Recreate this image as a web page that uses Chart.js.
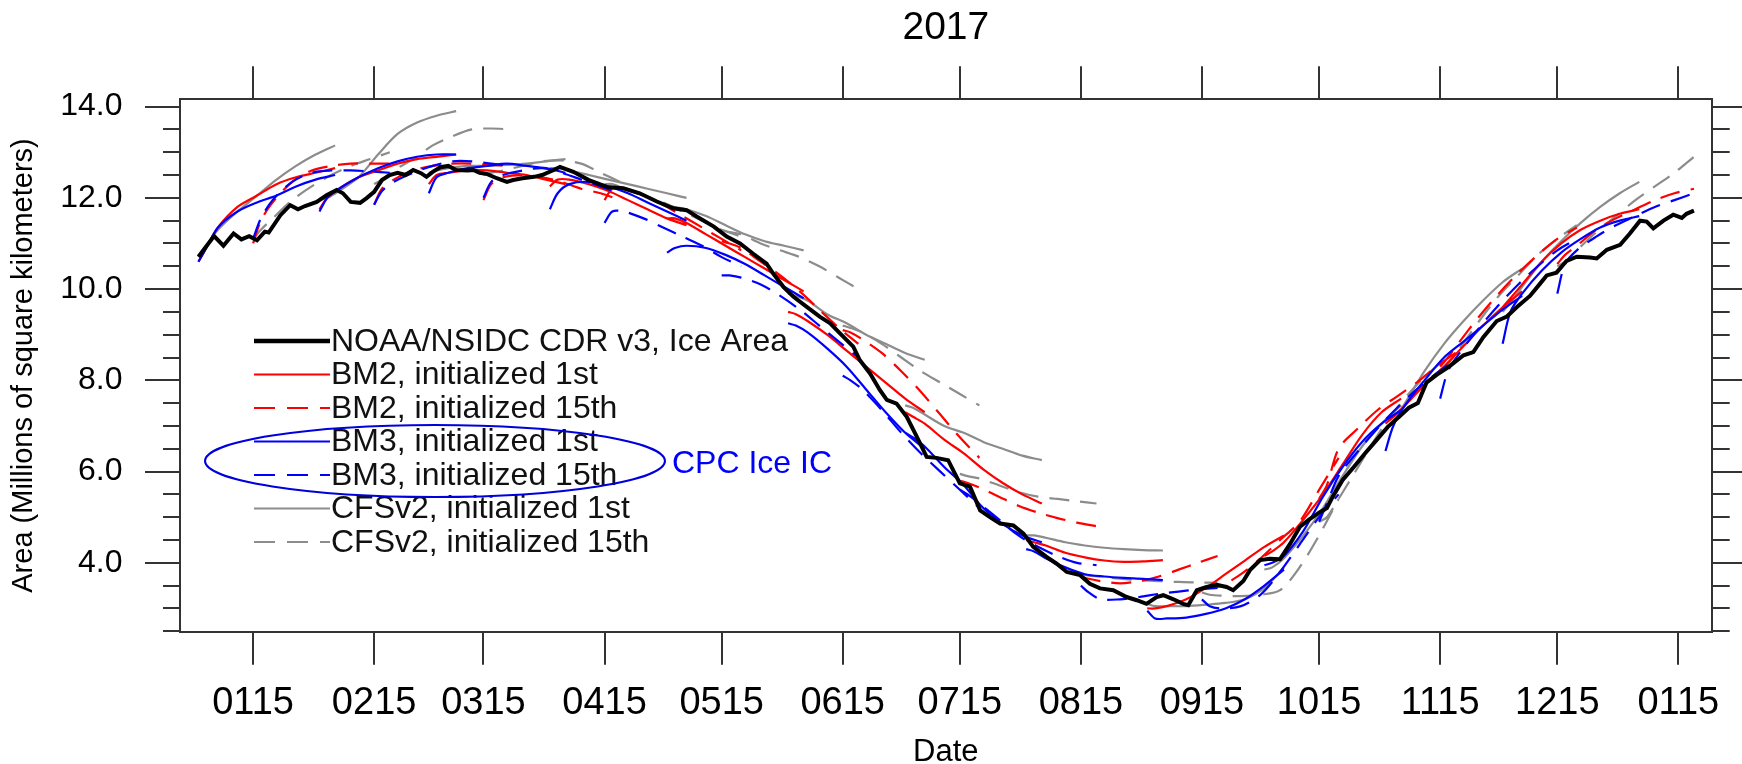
<!DOCTYPE html>
<html><head><meta charset="utf-8">
<script src="https://cdn.jsdelivr.net/npm/chart.js@4.4.1/dist/chart.umd.min.js"></script>
<style>html,body{margin:0;padding:0;background:#fff;}canvas{display:block;}</style>
</head><body>
<canvas id="c" width="1742" height="764"></canvas>
<script>
// ---- axis definitions (day index: 0 = 1 Jan 2017) ----
const tickDays = [14,45,73,104,134,165,195,226,257,287,318,348,379];
const tickLabels = ['0115','0215','0315','0415','0515','0615','0715','0815','0915','1015','1115','1215','0115'];
const yMajorTicks = [4,6,8,10,12,14];
const yMinorTicks = [2.5,3,3.5,4.5,5,5.5,6.5,7,7.5,8.5,9,9.5,10.5,11,11.5,12.5,13,13.5];

// ---- observations: NOAA/NSIDC CDR v3 ice area ----
const obsDays = [0,4,6.4,9,11,13,15,17,18,21,23.5,25.5,27.3,30.3,32.8,35.4,37,39,41.4,43,45,47,49,51,53,55,57,58.4,60,62,64,66,69,70.4,72,74,76.4,79,80.6,83,86,88,91,92.6,96,100,104.6,108.8,113,117.4,121.6,125,127.6,132,135.3,138.7,142,145.5,147.2,149.8,152.4,155.8,159.2,161.8,164.3,167.7,169.4,172,174.5,176.3,178.8,181.4,184,186.5,189,192,195,197.6,200.2,202.7,205.3,208.7,211.3,213.8,217.2,219.8,222.4,225.8,228.3,230.9,234.3,237.7,240.3,242.8,245.4,247.1,249.7,252.2,253.5,255.7,258.2,260.8,263.3,265,267.6,269.3,271.9,274.4,277,279.6,282.1,284.5,287,289,290.5,293,295.9,298.8,301.7,304.6,307.5,310,312.3,314.5,317.1,320.3,324,326.5,329.1,332.5,335.1,337.6,341,343.6,345.3,347.8,350.4,353,356.4,358.1,360.7,364.1,366.6,369.2,370.9,372.6,375.2,377.7,379.9,381.1,383];
const obsArea = [10.71,11.16,10.95,11.22,11.09,11.16,11.07,11.26,11.24,11.62,11.84,11.75,11.82,11.91,12.06,12.17,12.1,11.91,11.89,11.99,12.13,12.39,12.5,12.55,12.5,12.61,12.54,12.46,12.57,12.67,12.7,12.61,12.6,12.61,12.55,12.52,12.43,12.35,12.39,12.43,12.46,12.5,12.61,12.68,12.57,12.39,12.24,12.21,12.1,11.92,11.77,11.73,11.59,11.37,11.15,11.0,10.78,10.56,10.34,10.05,9.83,9.61,9.39,9.25,9.03,8.74,8.44,8.15,7.79,7.57,7.49,7.2,6.76,6.32,6.3,6.25,5.74,5.67,5.15,5.0,4.86,4.82,4.64,4.35,4.13,3.98,3.8,3.73,3.54,3.44,3.4,3.25,3.18,3.1,3.25,3.29,3.2,3.1,3.07,3.4,3.47,3.52,3.47,3.4,3.6,3.84,4.06,4.09,4.08,4.42,4.79,4.95,5.1,5.2,5.45,5.81,6.1,6.4,6.69,6.98,7.2,7.4,7.5,7.95,8.12,8.3,8.55,8.62,8.95,9.3,9.4,9.6,9.85,10.12,10.3,10.36,10.62,10.71,10.69,10.67,10.86,10.97,11.22,11.5,11.48,11.33,11.5,11.63,11.56,11.65,11.72];

// ---- forecasts: lead days and initialisation days ----
const leadDays = [0,2,5,10,15,20,25,30,35];
const initFirst = [0,31,59,90,120,151,181,212,243,273,304,334];
const initFifteenth = [14,45,73,104,134,165,195,226,257,287,318,348];

const bm2First = [
 [10.6,10.9,11.35,11.8,12.05,12.3,12.45,12.55,12.65],
 [11.75,12.0,12.2,12.45,12.6,12.75,12.85,12.9,12.95],
 [12.3,12.5,12.55,12.6,12.6,12.55,12.5,12.4,12.3],
 [12.25,12.4,12.4,12.3,12.15,11.95,11.75,11.55,11.4],
 [11.55,11.55,11.45,11.2,10.95,10.7,10.45,10.2,9.95],
 [9.5,9.45,9.3,9.0,8.65,8.3,7.95,7.6,7.3],
 [7.3,7.2,7.05,6.7,6.4,6.05,5.75,5.5,5.3],
 [4.5,4.45,4.38,4.22,4.12,4.05,4.02,4.03,4.06],
 [3.0,3.0,3.05,3.2,3.45,3.75,4.05,4.35,4.6],
 [4.15,4.25,4.45,4.95,5.5,6.15,6.8,7.3,7.6],
 [7.05,7.2,7.45,7.9,8.3,8.75,9.2,9.6,9.95],
 [9.6,9.8,10.1,10.6,11.0,11.3,11.5,11.65,11.75]
];
const bm2Fifteenth = [
 [11.0,11.5,11.9,12.35,12.6,12.7,12.75,12.75,12.75],
 [11.85,12.2,12.4,12.6,12.7,12.75,12.75,12.72,12.7],
 [11.95,12.3,12.45,12.5,12.45,12.35,12.2,12.1,11.95],
 [11.95,12.2,12.2,12.05,11.85,11.6,11.35,11.1,10.85],
 [11.05,11.0,10.9,10.6,10.3,9.95,9.55,9.15,8.8],
 [9.1,9.05,8.9,8.6,8.2,7.75,7.25,6.75,6.3],
 [5.8,5.75,5.65,5.45,5.25,5.1,4.98,4.88,4.8],
 [3.7,3.65,3.6,3.55,3.6,3.7,3.85,4.0,4.15],
 [3.45,3.45,3.5,3.75,4.1,4.5,4.9,5.6,6.3],
 [5.4,5.7,6.5,6.95,7.35,7.65,7.95,8.3,8.6],
 [8.3,8.5,8.85,9.4,9.9,10.35,10.75,11.1,11.35],
 [10.55,10.75,10.95,11.3,11.55,11.75,11.95,12.1,12.2]
];
const bm3First = [
 [10.6,10.9,11.35,11.7,11.9,12.05,12.25,12.4,12.5],
 [11.7,12.0,12.2,12.45,12.65,12.8,12.9,12.95,12.95],
 [12.1,12.45,12.55,12.65,12.7,12.75,12.7,12.65,12.55],
 [11.75,12.1,12.3,12.35,12.25,12.1,11.9,11.7,11.5],
 [10.8,10.9,10.95,10.9,10.75,10.55,10.3,10.05,9.8],
 [9.25,9.2,9.05,8.7,8.3,7.8,7.3,6.85,6.5],
 [6.85,6.75,6.55,6.1,5.7,5.2,4.85,4.6,4.45],
 [4.3,4.25,4.1,3.9,3.75,3.7,3.67,3.65,3.62],
 [2.95,2.78,2.78,2.8,2.88,3.0,3.2,3.5,3.85],
 [3.95,4.0,4.15,4.7,5.45,6.1,6.65,7.05,7.35],
 [6.45,7.0,7.45,8.0,8.5,8.85,9.2,9.55,9.85],
 [8.8,9.5,9.9,10.4,10.8,11.1,11.35,11.5,11.6]
];
const bm3Fifteenth = [
 [11.1,11.55,11.95,12.35,12.55,12.6,12.6,12.58,12.55],
 [11.85,12.15,12.35,12.55,12.7,12.8,12.8,12.75,12.7],
 [12.0,12.35,12.5,12.6,12.65,12.55,12.4,12.25,12.1],
 [11.45,11.7,11.7,11.55,11.35,11.15,10.95,10.7,10.5],
 [10.3,10.3,10.25,10.1,9.85,9.55,9.2,8.85,8.5],
 [8.1,8.0,7.8,7.35,6.85,6.4,6.0,5.6,5.2],
 [5.6,5.5,5.3,4.95,4.6,4.35,4.15,4.0,3.95],
 [3.5,3.35,3.2,3.2,3.25,3.32,3.37,3.42,3.45],
 [3.2,3.05,3.0,3.05,3.3,3.8,4.4,5.0,5.5],
 [4.9,5.3,5.9,6.45,6.95,7.4,7.8,8.15,8.45],
 [7.6,8.2,8.6,9.15,9.65,10.1,10.5,10.85,11.1],
 [9.9,10.55,10.85,11.15,11.4,11.6,11.8,11.95,12.1]
];
const cfsFirst = [
 [10.7,10.95,11.3,11.7,12.05,12.4,12.7,12.95,13.15],
 [11.95,12.0,12.15,12.45,12.95,13.4,13.65,13.8,13.9],
 [12.55,12.6,12.65,12.7,12.7,12.72,12.75,12.8,12.85],
 [12.65,12.65,12.6,12.5,12.4,12.3,12.2,12.1,12.0],
 [11.85,11.8,11.75,11.6,11.4,11.2,11.05,10.95,10.85],
 [9.9,9.85,9.75,9.45,9.25,9.0,8.8,8.6,8.45],
 [7.45,7.4,7.25,7.0,6.85,6.65,6.5,6.35,6.25],
 [4.6,4.6,4.55,4.45,4.38,4.33,4.3,4.28,4.27],
 [3.1,3.05,3.05,3.05,3.08,3.12,3.2,3.45,3.9],
 [3.85,3.9,4.1,4.6,5.2,5.9,6.55,7.05,7.45],
 [6.9,7.1,7.5,8.2,8.8,9.3,9.75,10.15,10.45],
 [9.5,9.7,10.05,10.6,11.05,11.45,11.8,12.1,12.35]
];
const cfsFifteenth = [
 [11.1,11.3,11.55,11.95,12.25,12.5,12.7,12.85,13.0],
 [12.3,12.4,12.6,12.85,13.15,13.35,13.5,13.52,13.5],
 [12.5,12.55,12.6,12.7,12.8,12.82,12.75,12.55,12.35],
 [12.3,12.3,12.2,12.05,11.9,11.7,11.5,11.3,11.15],
 [11.3,11.25,11.2,11.0,10.85,10.7,10.5,10.25,10.0],
 [9.2,9.15,9.05,8.8,8.5,8.2,7.95,7.7,7.45],
 [5.95,5.9,5.85,5.7,5.55,5.45,5.4,5.35,5.3],
 [3.75,3.72,3.7,3.65,3.62,3.6,3.58,3.57,3.56],
 [3.35,3.3,3.28,3.27,3.3,3.4,3.9,4.6,5.4],
 [4.9,5.0,5.4,6.1,6.8,7.4,7.9,8.3,8.6],
 [8.2,8.35,8.7,9.3,9.85,10.3,10.75,11.1,11.4],
 [10.5,10.6,10.85,11.25,11.6,11.95,12.25,12.55,12.9]
];

const legendLabels = ['NOAA/NSIDC CDR v3, Ice Area','BM2, initialized 1st','BM2, initialized 15th','BM3, initialized 1st','BM3, initialized 15th','CFSv2, initialized 1st','CFSv2, initialized 15th'];
const noteText = 'CPC Ice IC';

// ---- helpers ----
function segPoints(inits, segs){
  const pts = [];
  segs.forEach((vals,k)=>{
    vals.forEach((v,j)=>pts.push({x: inits[k] + leadDays[j], y: v}));
    pts.push({x: inits[k] + leadDays[leadDays.length-1], y: null});
  });
  return pts;
}
const FONT = '"Liberation Sans", Arial, Helvetica, sans-serif';
const RED = '#ff0000', BLUE = '#0000ff', GRAY = '#8c8c8c', BLACK = '#000000';
const DASH = [20, 11];

const datasets = [
  {label: legendLabels[0], data: obsDays.map((d,i)=>({x:d, y:obsArea[i]})), borderColor: BLACK, borderWidth: 4, tension: 0, order: 0},
  {label: legendLabels[3], data: segPoints(initFirst, bm3First), borderColor: BLUE, borderWidth: 2.2, tension: 0.3, order: 1},
  {label: legendLabels[4], data: segPoints(initFifteenth, bm3Fifteenth), borderColor: BLUE, borderWidth: 2.2, borderDash: DASH, tension: 0.3, order: 2},
  {label: legendLabels[1], data: segPoints(initFirst, bm2First), borderColor: RED, borderWidth: 2.2, tension: 0.3, order: 3},
  {label: legendLabels[2], data: segPoints(initFifteenth, bm2Fifteenth), borderColor: RED, borderWidth: 2.2, borderDash: DASH, tension: 0.3, order: 4},
  {label: legendLabels[5], data: segPoints(initFirst, cfsFirst), borderColor: GRAY, borderWidth: 2.2, tension: 0.3, order: 5},
  {label: legendLabels[6], data: segPoints(initFifteenth, cfsFifteenth), borderColor: GRAY, borderWidth: 2.2, borderDash: DASH, tension: 0.3, order: 6}
];
datasets.forEach(d=>{ d.fill = false; d.pointRadius = 0; d.spanGaps = false; });

const legendStyle = [
  {color: BLACK, width: 4.5, dash: []},
  {color: RED, width: 2.2, dash: []},
  {color: RED, width: 2.2, dash: [21,12]},
  {color: BLUE, width: 2.2, dash: []},
  {color: BLUE, width: 2.2, dash: [21,12]},
  {color: GRAY, width: 2.2, dash: []},
  {color: GRAY, width: 2.2, dash: [21,12]}
];

const overlayPlugin = {
  id: 'overlay',
  afterDatasetsDraw(chart){
    const ctx = chart.ctx;
    ctx.save();
    legendLabels.forEach((t,i)=>{
      const y = 341 + i*33.5;
      const st = legendStyle[i];
      ctx.strokeStyle = st.color; ctx.lineWidth = st.width; ctx.setLineDash(st.dash);
      ctx.beginPath(); ctx.moveTo(254, y); ctx.lineTo(330, y); ctx.stroke();
      ctx.setLineDash([]);
      ctx.fillStyle = '#111'; ctx.font = '32px ' + FONT; ctx.textBaseline = 'middle'; ctx.textAlign = 'left';
      ctx.fillText(t, 331, y + 1);
    });
    ctx.strokeStyle = '#0000dd'; ctx.lineWidth = 2; ctx.setLineDash([]);
    ctx.beginPath(); ctx.ellipse(435, 461, 230, 36, 0, 0, Math.PI*2); ctx.stroke();
    ctx.fillStyle = '#0000ff'; ctx.font = '32px ' + FONT; ctx.textBaseline = 'middle'; ctx.textAlign = 'left';
    ctx.fillText(noteText, 672, 464);
    ctx.restore();
  }
};

const xMin = -4.72, xMax = 387.55, yMin = 2.49, yMax = 14.16;
const AX = '#333333';
function xTicks(s){ s.ticks = tickDays.map(v=>({value:v})); }

new Chart(document.getElementById('c').getContext('2d'), {
  type: 'line',
  data: { datasets },
  options: {
    responsive: false, animation: false, devicePixelRatio: 1,
    layout: { padding: 0 },
    plugins: { legend: {display:false}, title: {display:false}, tooltip: {enabled:false} },
    elements: { point: { radius: 0 } },
    scales: {
      x: { type:'linear', position:'bottom', min:xMin, max:xMax, weight:0,
        afterBuildTicks: xTicks, afterFit: s=>{ s.height = 132.3; },
        grid: { drawOnChartArea:false, drawTicks:true, tickLength:33, color:AX, lineWidth:2 },
        border: { display:true, color:AX, width:2 },
        ticks: { autoSkip:false, maxRotation:0, minRotation:0, padding:16, color:'#000', font:{family:FONT, size:38, lineHeight:1.2},
          callback: (v,i)=>tickLabels[i] },
        title: { display:true, text:'Date', color:'#000', font:{family:FONT, size:31, lineHeight:0.75}, padding:0 }
      },
      x2: { type:'linear', position:'top', min:xMin, max:xMax, weight:0,
        afterBuildTicks: xTicks, afterFit: s=>{ s.height = 99.3; },
        grid: { drawOnChartArea:false, drawTicks:true, tickLength:33, color:AX, lineWidth:2 },
        border: { display:true, color:AX, width:2 },
        ticks: { display:false },
        title: { display:true, text:'2017', color:'#000', font:{family:FONT, size:39, lineHeight:1.2}, padding:{top:5, bottom:0} }
      },
      y: { type:'linear', position:'left', min:yMin, max:yMax, weight:1,
        afterBuildTicks: s=>{ s.ticks = yMajorTicks.map(v=>({value:v})); }, afterFit: s=>{ s.width = 180; },
        grid: { drawOnChartArea:false, drawTicks:true, tickLength:35, color:AX, lineWidth:2 },
        border: { display:true, color:AX, width:2 },
        ticks: { padding:22.5, color:'#000', font:{family:FONT, size:32}, callback: v=>Number(v).toFixed(1) },
        title: { display:true, text:'Area (Millions of square kilometers)', color:'#000', font:{family:FONT, size:29, lineHeight:1.2}, padding:{top:6.6, bottom:0} }
      },
      yMinor: { type:'linear', position:'left', min:yMin, max:yMax, weight:0,
        afterBuildTicks: s=>{ s.ticks = yMinorTicks.map(v=>({value:v})); }, afterFit: s=>{ s.width = 0; },
        grid: { drawOnChartArea:false, drawTicks:true, tickLength:17, color:AX, lineWidth:2 },
        border: { display:false }, ticks: { display:false }
      },
      yR: { type:'linear', position:'right', min:yMin, max:yMax, weight:1,
        afterBuildTicks: s=>{ s.ticks = yMajorTicks.map(v=>({value:v})); }, afterFit: s=>{ s.width = 30.3; },
        grid: { drawOnChartArea:false, drawTicks:true, tickLength:35, color:AX, lineWidth:2 },
        border: { display:true, color:AX, width:2 }, ticks: { display:false }
      },
      yRMinor: { type:'linear', position:'right', min:yMin, max:yMax, weight:0,
        afterBuildTicks: s=>{ s.ticks = yMinorTicks.map(v=>({value:v})); }, afterFit: s=>{ s.width = 0; },
        grid: { drawOnChartArea:false, drawTicks:true, tickLength:18, color:AX, lineWidth:2 },
        border: { display:false }, ticks: { display:false }
      }
    }
  },
  plugins: [overlayPlugin]
});
</script>
</body></html>
